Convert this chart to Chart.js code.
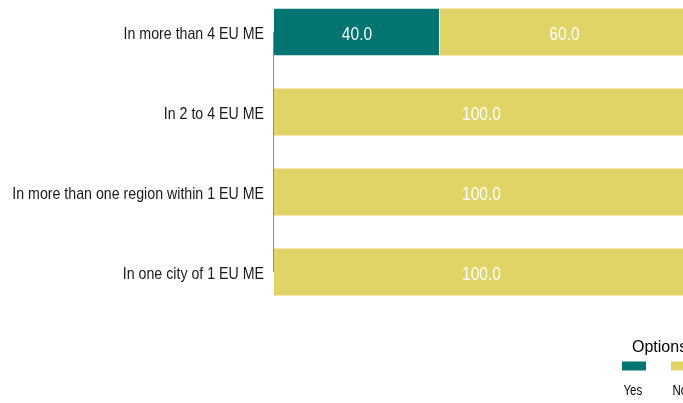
<!DOCTYPE html>
<html>
<head>
<meta charset="utf-8">
<script src="https://cdn.jsdelivr.net/npm/chart.js@4/dist/chart.umd.min.js"></script>
<style>
  html, body { margin: 0; padding: 0; overflow: hidden; background: #fff; }
  #wrap { position: absolute; left: 0; top: -8px; width: 720px; height: 412px; }
</style>
</head>
<body>
<div id="wrap"><canvas id="chart"></canvas></div>
<script>
const categories = [
  "In more than 4 EU ME",
  "In 2 to 4 EU ME",
  "In more than one region within 1 EU ME",
  "In one city of 1 EU ME"
];
const yesValues = [40, 0, 0, 0];
const noValues = [60, 100, 100, 100];
const seriesLabels = ["Yes", "No"];
const legendTitle = "Options";

const FONT = "'Liberation Sans', Arial, sans-serif";

// texto estrecho (tipo Arial Narrow) escalando en horizontal
function narrowText(ctx, text, x, y, size, color, align, squeeze) {
  ctx.save();
  ctx.font = size + "px " + FONT;
  ctx.fillStyle = color;
  ctx.textAlign = align;
  ctx.textBaseline = "alphabetic";
  ctx.translate(x, y);
  ctx.scale(squeeze, 1);
  ctx.fillText(text, 0, 0);
  ctx.restore();
}

// etiquetas de categoria a la izquierda
const categoryLabels = {
  id: "categoryLabels",
  afterDraw(chart) {
    const y = chart.scales.y;
    categories.forEach((c, i) => {
      narrowText(chart.ctx, c, chart.chartArea.left - 10, y.getPixelForTick(i) + 7, 17, "#1a1a1a", "right", 0.835);
    });
  }
};

// etiquetas blancas dentro de cada barra
const valueLabels = {
  id: "valueLabels",
  afterDatasetsDraw(chart) {
    chart.data.datasets.forEach((ds, i) => {
      const meta = chart.getDatasetMeta(i);
      meta.data.forEach((bar, j) => {
        const v = ds.data[j];
        if (!v) return;
        narrowText(chart.ctx, v.toFixed(1), (bar.x + bar.base) / 2, bar.y + 7.5, 19, "#ffffff", "center", 0.82);
      });
    });
  }
};

// linea del eje, solo entre la primera y la ultima categoria
const axisLine = {
  id: "axisLine",
  afterDatasetsDraw(chart) {
    const y = chart.scales.y;
    const ctx = chart.ctx;
    const x = chart.chartArea.left - 0.5;
    ctx.save();
    ctx.strokeStyle = "#8c8c8c";
    ctx.lineWidth = 1;
    ctx.beginPath();
    ctx.moveTo(x, y.getPixelForTick(0));
    ctx.lineTo(x, y.getPixelForTick(categories.length - 1));
    ctx.stroke();
    ctx.restore();
  }
};

// leyenda abajo a la derecha, texto debajo de cada caja
const bottomLegend = {
  id: "bottomLegend",
  afterDraw(chart) {
    const ctx = chart.ctx;
    const left = chart.chartArea.right - 67;
    const b = chart.chartArea.bottom;
    narrowText(ctx, legendTitle, left + 10, b + 40, 16, "#000", "left", 1);
    chart.data.datasets.forEach((ds, i) => {
      const bx = left + i * 49;
      ctx.fillStyle = ds.backgroundColor;
      ctx.fillRect(bx, b + 49.5, 24, 9);
      narrowText(ctx, ds.label, bx + 1.5, b + 82.5, 14, "#000", "left", 0.82);
    });
  }
};

new Chart(document.getElementById("chart"), {
  type: "bar",
  data: {
    labels: categories,
    datasets: [
      {
        label: seriesLabels[0],
        data: yesValues,
        backgroundColor: "#007571",
        borderColor: "#ffffff",
        borderWidth: (c) => (c.raw > 0 ? { right: 1 } : 0),
        borderSkipped: false
      },
      {
        label: seriesLabels[1],
        data: noValues,
        backgroundColor: "#e0d466",
        borderWidth: 0
      }
    ]
  },
  options: {
    indexAxis: "y",
    responsive: true,
    maintainAspectRatio: false,
    animation: false,
    layout: { padding: { left: 0, right: 31, top: 0, bottom: 92 } },
    categoryPercentage: 1,
    barPercentage: 0.5875,
    scales: {
      x: {
        stacked: true,
        display: false,
        min: 0,
        max: 100
      },
      y: {
        stacked: true,
        border: { display: false },
        grid: { display: false, drawTicks: false },
        ticks: { display: false },
        afterFit(scale) {
          scale.width = 274;
        }
      }
    },
    plugins: {
      legend: { display: false },
      tooltip: { enabled: false }
    }
  },
  plugins: [valueLabels, axisLine, categoryLabels, bottomLegend]
});
</script>
</body>
</html>
